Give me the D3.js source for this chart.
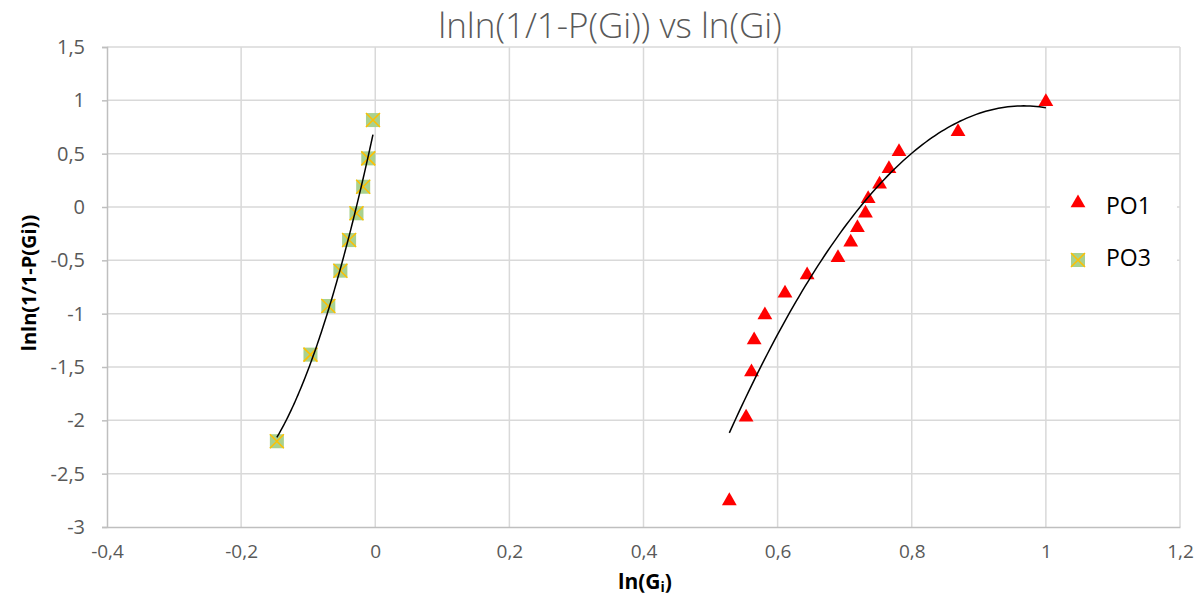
<!DOCTYPE html>
<html><head><meta charset="utf-8">
<script src="https://cdn.jsdelivr.net/npm/d3@7"></script>
<style>body{margin:0;background:#fff}svg{display:block}</style>
</head><body>
<svg id="c" width="1203" height="596"></svg>
<script>
const xTicks = [-0.4,-0.2,0,0.2,0.4,0.6,0.8,1,1.2];
const yTicks = [1.5,1,0.5,0,-0.5,-1,-1.5,-2,-2.5,-3];
const po1X = [1.0,0.869,0.781,0.766,0.752,0.735,0.731,0.719,0.709,0.690,0.644,0.611,0.581,0.565,0.561,0.553,0.528];
const po1Y = [0.996,0.715,0.528,0.368,0.222,0.087,-0.050,-0.185,-0.322,-0.466,-0.628,-0.80,-1.003,-1.237,-1.537,-1.962,-2.746];
const po3X = [-0.0034,-0.0104,-0.018,-0.028,-0.039,-0.052,-0.070,-0.0966,-0.1467];
const po3Y = [0.815,0.456,0.19,-0.059,-0.31,-0.597,-0.928,-1.384,-2.196];
const seriesNames = ["PO1","PO3"];

const svg = d3.select("#c");
const L=107,R=1180,T=47,B=527;
const x = d3.scaleLinear().domain([-0.4,1.2]).range([L,R]);
const y = d3.scaleLinear().domain([-3,1.5]).range([B,T]);
const fmt = d => String(d).replace(".",",");
const FONT = "'Open Sans',sans-serif";

// gridlines
svg.append("g").selectAll("line").data(xTicks.slice(1)).join("line")
  .attr("x1",d=>x(d)).attr("x2",d=>x(d)).attr("y1",T).attr("y2",B)
  .attr("stroke","#d9d9d9").attr("stroke-width",1.5);
svg.append("g").selectAll("line").data(yTicks.slice(0,-1)).join("line")
  .attr("x1",L).attr("x2",R).attr("y1",d=>y(d)).attr("y2",d=>y(d))
  .attr("stroke","#d9d9d9").attr("stroke-width",1.5);

// axes
const yAx = svg.append("g").attr("transform",`translate(${L},0)`)
  .call(d3.axisLeft(y).tickValues(yTicks).tickFormat(fmt).tickSize(5).tickPadding(17));
yAx.select(".domain").attr("stroke","#bfbfbf").attr("stroke-width",1.5);
yAx.selectAll(".tick line").attr("stroke","#bfbfbf").attr("stroke-width",1.5);
yAx.selectAll("text").attr("fill","#595959").style("font-family",FONT).style("font-size","20px");
const xAx = svg.append("g").attr("transform",`translate(0,${B})`)
  .call(d3.axisBottom(x).tickValues(xTicks).tickFormat(fmt).tickSize(0).tickPadding(18));
xAx.select(".domain").attr("stroke","#bfbfbf").attr("stroke-width",1.5);
xAx.selectAll("text").attr("fill","#595959").style("font-family",FONT).style("font-size","19px");

// trendlines: least-squares polynomial (order 2)
function polyfit(xs, ys, deg){
  const n=deg+1, A=[...Array(n)].map(()=>Array(n+1).fill(0));
  for(let i=0;i<xs.length;i++){
    for(let r=0;r<n;r++){
      for(let c=0;c<n;c++) A[r][c]+=Math.pow(xs[i],r+c);
      A[r][n]+=ys[i]*Math.pow(xs[i],r);
    }
  }
  for(let i=0;i<n;i++){
    let m=i; for(let k=i+1;k<n;k++) if(Math.abs(A[k][i])>Math.abs(A[m][i])) m=k;
    [A[i],A[m]]=[A[m],A[i]];
    for(let k=i+1;k<n;k++){const f=A[k][i]/A[i][i]; for(let j=i;j<=n;j++) A[k][j]-=f*A[i][j];}
  }
  const c=Array(n).fill(0);
  for(let i=n-1;i>=0;i--){let s=A[i][n]; for(let j=i+1;j<n;j++) s-=A[i][j]*c[j]; c[i]=s/A[i][i];}
  return c;
}
function trend(xs, ys){
  const c=polyfit(xs,ys,2);
  const [a,b]=d3.extent(xs);
  const pts=d3.range(0,101).map(i=>{const xv=a+(b-a)*i/100; return [xv,c[0]+c[1]*xv+c[2]*xv*xv];});
  svg.append("path").attr("d",d3.line().x(d=>x(d[0])).y(d=>y(d[1]))(pts))
    .attr("fill","none").attr("stroke","#000").attr("stroke-width",1.5);
}

// markers
const tri = d3.symbol().type(d3.symbolTriangle).size(95);
function drawSquare(g, cx, cy){
  const s=7;
  g.append("rect").attr("x",cx-s).attr("y",cy-s).attr("width",2*s).attr("height",2*s).attr("fill","#a9d18e");
  g.append("path").attr("d",`M${cx-s},${cy-s}L${cx+s},${cy+s}M${cx+s},${cy-s}L${cx-s},${cy+s}`)
    .attr("stroke","#ffc000").attr("stroke-width",1.5);
}
const g1 = svg.append("g");
g1.selectAll("path").data(po1X.map((d,i)=>[d,po1Y[i]])).join("path")
  .attr("d",tri).attr("transform",d=>`translate(${x(d[0])},${y(d[1])+1})`).attr("fill","#ff0000");
const g3 = svg.append("g");
po3X.forEach((d,i)=>drawSquare(g3, x(d), y(po3Y[i])));

trend(po1X,po1Y);
trend(po3X,po3Y);

// legend
svg.append("rect").attr("x",1050).attr("y",182).attr("width",127).attr("height",100).attr("fill","#fff");
svg.append("path").attr("d",tri).attr("transform","translate(1078,203)").attr("fill","#ff0000");
drawSquare(svg, 1078, 260);
svg.selectAll(".lg").data(seriesNames).join("text").attr("class","lg")
  .attr("x",1106).attr("y",(d,i)=>214+i*52).text(d=>d)
  .attr("fill","#000").style("font-family",FONT).style("font-size","23px");

// titles
svg.append("text").attr("x",610).attr("y",38).attr("text-anchor","middle")
  .attr("fill","#595959").style("font-family",FONT).style("font-size","35px").style("font-weight","300")
  .text("lnln(1/1-P(Gi)) vs ln(Gi)");
const xt = svg.append("text").attr("x",645).attr("y",589).attr("text-anchor","middle")
  .attr("fill","#000").style("font-family",FONT).style("font-size","21px").style("font-weight","bold");
xt.append("tspan").text("ln(G");
xt.append("tspan").text("i").style("font-size","14px").attr("dy",3);
xt.append("tspan").text(")").attr("dy",-3);
svg.append("text").attr("transform","translate(36,283) rotate(-90)").attr("text-anchor","middle")
  .attr("fill","#000").style("font-family",FONT).style("font-size","20px").style("font-weight","bold")
  .text("lnln(1/1-P(Gi))");
</script>
</body></html>
